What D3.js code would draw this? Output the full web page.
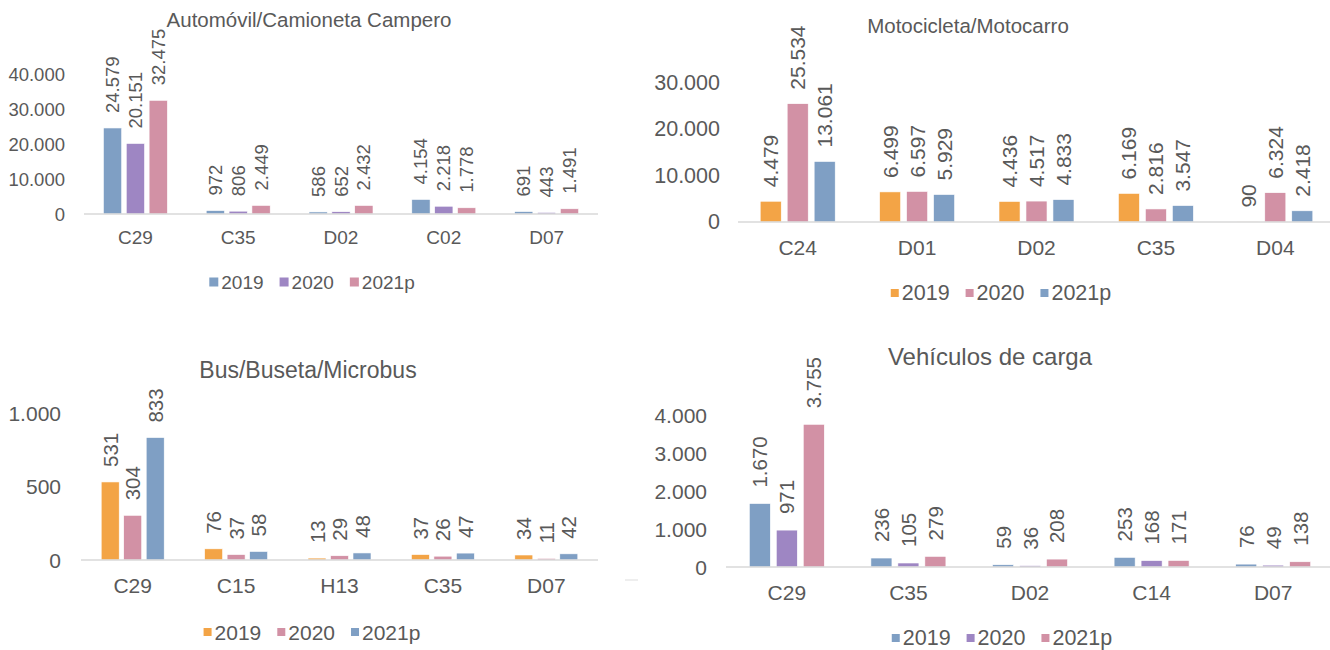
<!DOCTYPE html>
<html>
<head>
<meta charset="utf-8">
<script src="https://cdn.jsdelivr.net/npm/d3@7"></script>
<style>
  body { margin: 0; background: #fff; }
  svg text { font-family: "Liberation Sans", Arial, sans-serif; fill: #595959; }
</style>
</head>
<body>
<svg id="viz" width="1330" height="650"></svg>
<script>
// data
const series = ["2019", "2020", "2021p"]

const autoCats = ["C29", "C35", "D02", "C02", "D07"]
const auto2019 = [24579, 972, 586, 4154, 691]
const auto2020 = [20151, 806, 652, 2218, 443]
const auto2021 = [32475, 2449, 2432, 1778, 1491]
const autoTicks = [0, 10000, 20000, 30000, 40000]

const motoCats = ["C24", "D01", "D02", "C35", "D04"]
const moto2019 = [4479, 6499, 4436, 6169, 90]
const moto2020 = [25534, 6597, 4517, 2816, 6324]
const moto2021 = [13061, 5929, 4833, 3547, 2418]
const motoTicks = [0, 10000, 20000, 30000]

const busCats = ["C29", "C15", "H13", "C35", "D07"]
const bus2019 = [531, 76, 13, 37, 34]
const bus2020 = [304, 37, 29, 26, 11]
const bus2021 = [833, 58, 48, 47, 42]
const busTicks = [0, 500, 1000]

const cargaCats = ["C29", "C35", "D02", "C14", "D07"]
const carga2019 = [1670, 236, 59, 253, 76]
const carga2020 = [971, 105, 36, 168, 49]
const carga2021 = [3755, 279, 208, 171, 138]
const cargaTicks = [0, 1000, 2000, 3000, 4000]

// colours
const blue = "#7f9fc4", purple = "#9e86c3", pink = "#d291a5", orange = "#f3a446"

const fmt = d3.formatLocale({decimal: ",", thousands: ".", grouping: [3], currency: ["", ""]}).format(",d")

const svg = d3.select("#viz")

function drawChart(o) {
  const g = svg.append("g")
  const x = d3.scaleBand().domain(o.cats).range([o.x0, o.x1])
  const y = d3.scaleLinear().domain([0, o.ticks[o.ticks.length - 1]]).range([o.yBase, o.yTop])
  const xs = d3.scaleBand().domain(series).range([0, o.group]).paddingInner(o.inner)
  const rows = o.cats.map((c, i) => series.map((s, j) => ({cat: c, s: s, v: o.values[j][i], color: o.colors[j]})))

  // y tick labels
  g.selectAll(".ytick").data(o.ticks).join("text")
    .attr("x", o.tickX).attr("y", d => y(d))
    .attr("text-anchor", "end").attr("dominant-baseline", "central")
    .style("font-size", o.tickSize + "px")
    .text(d => fmt(d))

  // bars
  const grp = g.selectAll(".grp").data(rows).join("g")
    .attr("transform", (d, i) => `translate(${x(o.cats[i]) + (x.bandwidth() - o.group) / 2},0)`)
  grp.selectAll("rect").data(d => d).join("rect")
    .attr("x", d => xs(d.s)).attr("width", xs.bandwidth())
    .attr("y", d => y(d.v)).attr("height", d => o.yBase - y(d.v))
    .attr("fill", d => d.color)
    .attr("stroke", "#fff").attr("stroke-width", 0.6)

  // data labels
  grp.selectAll(".lbl").data(d => d).join("text")
    .attr("transform", d => `translate(${xs(d.s) + xs.bandwidth() / 2},${y(d.v) - o.labelGap}) rotate(-90)`)
    .attr("dominant-baseline", "central")
    .style("font-size", o.labelSize + "px")
    .text(d => fmt(d.v))

  // axis line
  g.append("line")
    .attr("x1", o.x0).attr("x2", o.x1).attr("y1", o.yBase).attr("y2", o.yBase)
    .attr("stroke", "#d9d9d9").attr("stroke-width", 1.5)

  // category labels
  g.selectAll(".cat").data(o.cats).join("text")
    .attr("x", d => x(d) + x.bandwidth() / 2).attr("y", o.catY)
    .attr("text-anchor", "middle").attr("dominant-baseline", "central")
    .style("font-size", o.catSize + "px")
    .text(d => d)

  // title
  g.append("text")
    .attr("x", o.titleX).attr("y", o.titleY)
    .attr("text-anchor", "middle")
    .style("font-size", o.titleSize + "px")
    .text(o.title)

  // legend
  const leg = g.append("g")
  let cx = 0
  series.forEach((s, j) => {
    leg.append("rect").attr("x", cx).attr("y", -o.sq / 2).attr("width", o.sq).attr("height", o.sq).attr("fill", o.colors[j])
    const t = leg.append("text").attr("x", cx + o.sq + 3).attr("y", 0)
      .attr("dominant-baseline", "central").style("font-size", o.legSize + "px").text(s)
    cx += o.sq + 3 + t.node().getComputedTextLength() + 16
  })
  cx -= 16
  leg.attr("transform", `translate(${o.legX - cx / 2},${o.legY})`)
}

drawChart({
  title: "Automóvil/Camioneta Campero", titleX: 309, titleY: 27, titleSize: 20.5,
  cats: autoCats, values: [auto2019, auto2020, auto2021], colors: [blue, purple, pink], ticks: autoTicks,
  x0: 84, x1: 598, yBase: 214, yTop: 74, tickX: 65, tickSize: 18.5,
  group: 64, inner: 0.2, labelGap: 15, labelSize: 18.5,
  catY: 237, catSize: 19, legX: 312, legY: 282, legSize: 19, sq: 9
})

drawChart({
  title: "Motocicleta/Motocarro", titleX: 968, titleY: 33, titleSize: 20.5,
  cats: motoCats, values: [moto2019, moto2020, moto2021], colors: [orange, pink, blue], ticks: motoTicks,
  x0: 738, x1: 1335, yBase: 222, yTop: 83, tickX: 720, tickSize: 21.5,
  group: 75, inner: 0.22, labelGap: 14, labelSize: 21,
  catY: 247, catSize: 21, legX: 1001, legY: 293, legSize: 21.5, sq: 8
})

drawChart({
  title: "Bus/Buseta/Microbus", titleX: 308, titleY: 378, titleSize: 23,
  cats: busCats, values: [bus2019, bus2020, bus2021], colors: [orange, pink, blue], ticks: busTicks,
  x0: 81, x1: 598, yBase: 560, yTop: 413, tickX: 61, tickSize: 21,
  group: 63, inner: 0.2, labelGap: 15, labelSize: 20.5,
  catY: 585, catSize: 21, legX: 312, legY: 632, legSize: 21, sq: 8
})

drawChart({
  title: "Vehículos de carga", titleX: 990, titleY: 365, titleSize: 24,
  cats: cargaCats, values: [carga2019, carga2020, carga2021], colors: [blue, purple, pink], ticks: cargaTicks,
  x0: 726, x1: 1334, yBase: 567, yTop: 415, tickX: 707, tickSize: 21,
  group: 75, inner: 0.22, labelGap: 16, labelSize: 20.5,
  catY: 592, catSize: 21, legX: 1002, legY: 638, legSize: 21.5, sq: 8
})

// small stray mark between the lower charts
svg.append("line").attr("x1", 625).attr("x2", 638).attr("y1", 580).attr("y2", 580)
  .attr("stroke", "#eeeeee").attr("stroke-width", 2)
</script>
</body>
</html>
